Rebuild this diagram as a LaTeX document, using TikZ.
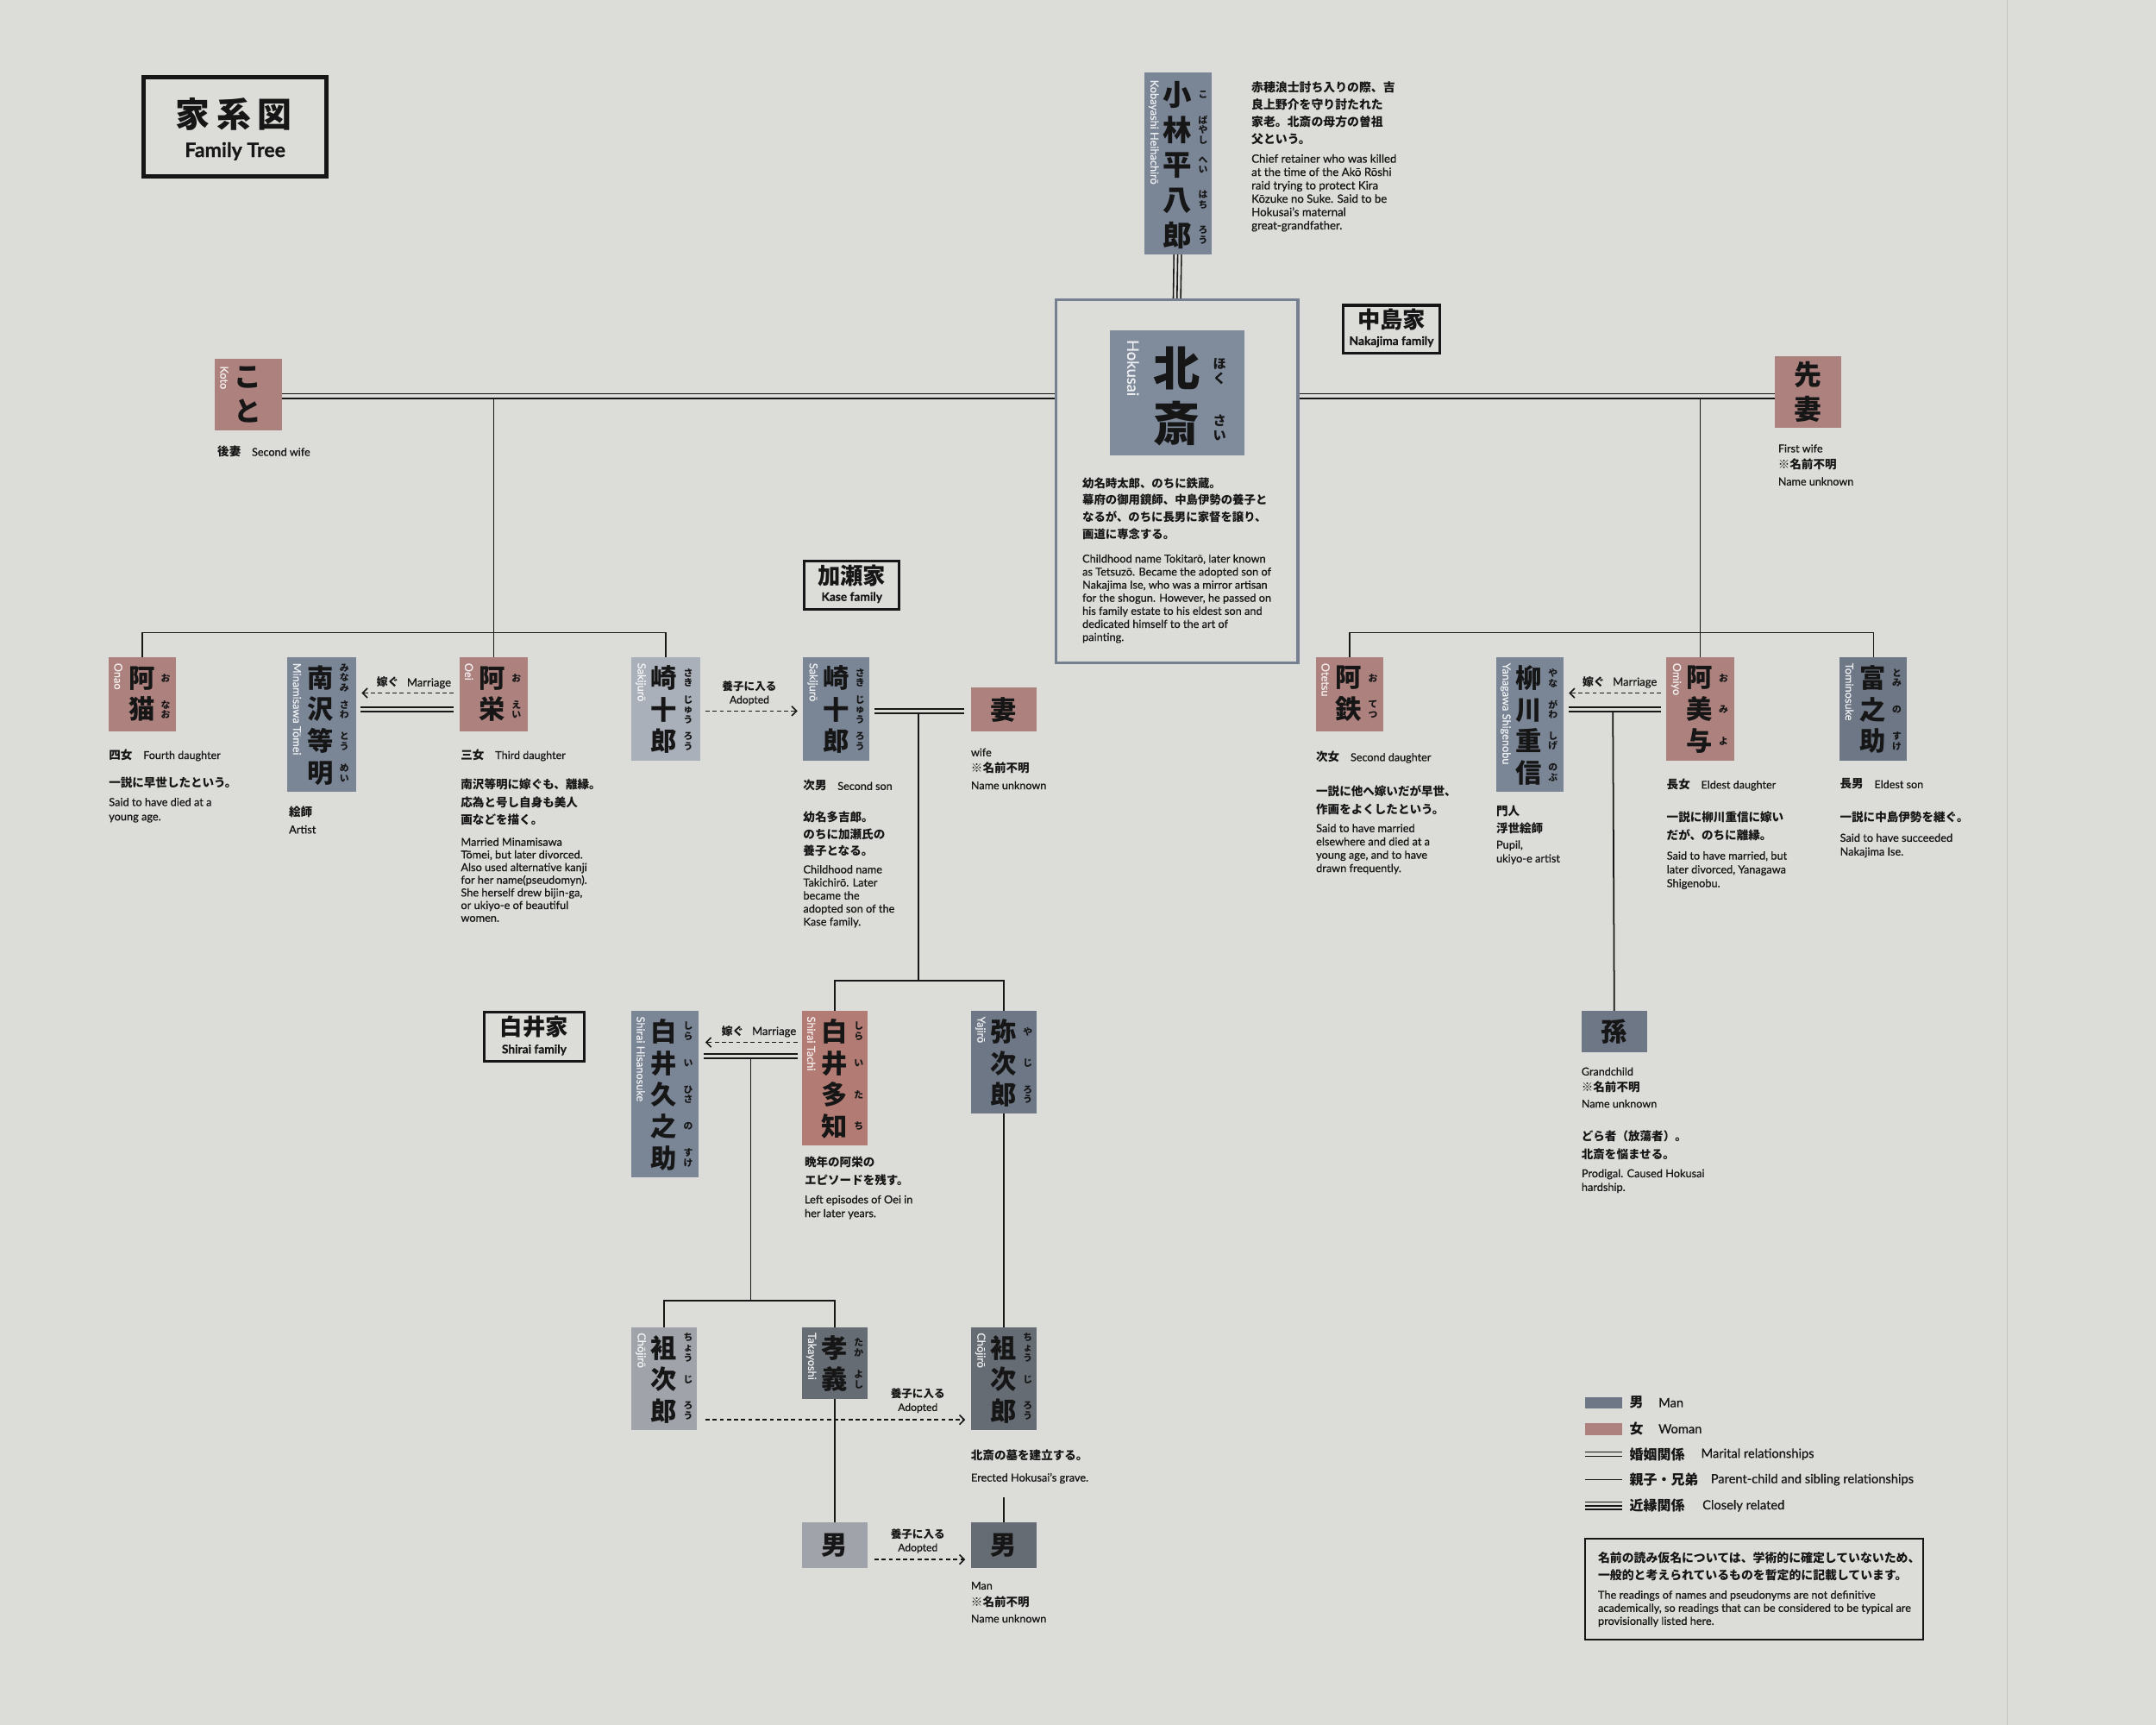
\documentclass[tikz,border=0pt]{standalone}
\usepackage{fontspec}
\setmainfont{Lato}[FakeBold=0.6]
\newfontfamily\jp{Noto Sans CJK JP}
\usetikzlibrary{arrows.meta}
\definecolor{bgc}{RGB}{220,220,216}
\definecolor{maleC}{RGB}{122,133,150}
\definecolor{maleD}{RGB}{110,119,134}
\definecolor{maleL}{RGB}{170,176,186}
\definecolor{hokC}{RGB}{128,139,156}
\definecolor{femC}{RGB}{172,129,126}
\definecolor{femT}{RGB}{178,124,116}
\definecolor{greyD}{RGB}{102,108,116}
\definecolor{greyL}{RGB}{160,164,170}
\definecolor{frameC}{RGB}{118,128,144}
\definecolor{ink}{RGB}{22,22,22}
\newcommand\jb{\jp\bfseries}
\newcommand\fsz[2]{\fontsize{#1}{#2}\selectfont}
\newcommand\pbox[6]{\node[fill=#6, inner sep=0pt, outer sep=0pt, minimum width={(#4-#2)*1pt}, minimum height={(#5-#3)*1pt}] (#1) at ({(#2+#4)/2},{(#3+#5)/2}) {};}
\newcommand\kj[4][]{\node[kjs,#1] at (#2,#3) {#4};}
\newcommand\fu[4][]{\node[fus,#1] at (#2,#3) {#4};}
\newcommand\rj[4][]{\node[rjs,#1] at (#2,#3) {#4};}
\newcommand\lab[4]{\node[txs] at (#1,#2) {{\jb\fsz{8.5}{9}#3}\hspace{8pt}{\fsz{7.9}{9}#4}};}
\newcommand\unk[4]{\node[txs, font=\fsz{7.9}{#3}] at (#1,#2) {#4\\{\jb\fsz{8.5}{#3}※名前不明}\\Name unknown};}
\newcommand\mlab[2]{\node[inner sep=0pt, text=ink] at (#1,#2) {{\jb\fsz{8}{9}嫁ぐ}\hspace{6pt}{\fsz{8.2}{9}Marriage}};}
\newcommand\alab[2]{\node[inner sep=0pt, text=ink, align=center, font=\fsz{7.6}{9.6}] at (#1,#2) {{\jb\fsz{7.9}{9.6}養子に入る}\\Adopted};}
\tikzset{
 kjs/.style={inner sep=0pt, align=center, text=ink, font=\jb\fsz{19}{23}},
 fus/.style={inner sep=0pt, align=center, text=ink, font=\jb\fsz{6.8}{7.3}},
 rjs/.style={rotate=-90, anchor=west, inner sep=0pt, text=white, text opacity=0.85, font=\fsz{8}{9}},
 txs/.style={anchor=north west, inner sep=0pt, align=left, text=ink},
 jd/.style={txs, font=\jb\fsz{8.5}{12.8}},
 ed/.style={txs, font=\fsz{8}{9.6}},
 ln/.style={line width=1.1pt, draw=ink},
 dbl/.style={line width=1pt, draw=ink, double=bgc, double distance=2.2pt},
 dbl3/.style={line width=1pt, draw=ink, double=bgc, double distance=4.4pt},
 adr/.style={line width=1pt, draw=ink, dash pattern=on 3pt off 2.2pt, -{Straight Barb[length=3.5pt,width=7pt]}},
 famb/.style={draw=ink, line width=2pt, inner sep=0pt, fill=bgc},
 famj/.style={inner sep=0pt, text=ink, font=\jb\fsz{16.5}{17}},
 fame/.style={inner sep=0pt, text=ink, font=\bfseries\fsz{8.6}{9}},
}
\begin{document}
\begin{tikzpicture}[x=1pt,y=-1pt]
\useasboundingbox (0,0) rectangle (1568,1254.4);
\fill[bgc] (0,0) rectangle (1568,1254.4);
\draw[bgc!88!black, line width=0.6pt] (1460,0) -- (1460,1254.4);

% ---------- title and family labels
\node[famb, line width=3.2pt, minimum width=132.8pt, minimum height=72pt] (title) at (171,92.3) {};
\node[inner sep=0pt, text=ink, font=\jb\fsz{25}{25}] (titlejp) at (170,83) {家\hspace{5pt}系\hspace{5pt}図};
\node[inner sep=0pt, text=ink, font=\bfseries\fsz{14.5}{15}] (titleen) at (171,110) {Family Tree};

\node[famb, minimum width=70pt, minimum height=35pt] (nakajima) at (1012,239.5) {};
\node[famj] (nakajp) at (1012,232.5) {中島家};
\node[fame] (nakaen) at (1012,248.5) {Nakajima family};

\node[famb, minimum width=69pt, minimum height=35pt] (kase) at (619.5,425.5) {};
\node[famj] (kasejp) at (619.5,418.5) {加瀬家};
\node[fame] (kaseen) at (619.5,434.5) {Kase family};

\node[famb, minimum width=73pt, minimum height=36pt] (shirai) at (388.5,754) {};
\node[famj] (shiraijp) at (388.5,747) {白井家};
\node[fame] (shiraien) at (388.5,763.5) {Shirai family};

% ---------- Kobayashi
\pbox{kobayashi}{832}{53}{881}{185}{maleC}
\kj[font=\jb\fsz{21}{25.5}]{856}{120}{小\\林\\平\\八\\郎}
\fu{875}{69}{こ}
\fu{875}{94.5}{ば\\や\\し}
\fu{875}{120}{へ\\い}
\fu{875}{145.5}{は\\ち}
\fu{875}{171}{ろ\\う}
\rj{839}{58}{Kobayashi Heihachirō}
\node[jd, font=\jb\fsz{8.7}{12.6}] (kobjp) at (910,59) {赤穂浪士討ち入りの際、吉\\良上野介を守り討たれた\\家老。北斎の母方の曽祖\\父という。};
\node[ed, font=\fsz{8.3}{9.7}] (koben) at (910,112) {Chief retainer who was killed\\at the time of the Akō Rōshi\\raid trying to protect Kira\\Kōzuke no Suke. Said to be\\Hokusai’s maternal\\great-grandfather.};

% ---------- Hokusai
\node[draw=frameC, line width=2.2pt, inner sep=0pt, minimum width=175.8pt, minimum height=263.8pt] (hframe) at (856,350) {};
\pbox{hokusai}{807}{240}{905}{331}{hokC}
\kj[font=\jb\fsz{34}{40}]{856}{288}{北\\斎}
\fu[font=\jb\fsz{9.5}{11}]{887}{270}{ほ\\く}
\fu[font=\jb\fsz{9.5}{11}]{887}{311}{さ\\い}
\rj[font=\fsz{11.5}{12}]{824}{247}{Hokusai}
\node[jd, font=\jb\fsz{8.4}{12.4}] (hokjp) at (787,347) {幼名時太郎、のちに鉄蔵。\\幕府の御用鏡師、中島伊勢の養子と\\なるが、のちに長男に家督を譲り、\\画道に専念する。};
\node[ed, font=\fsz{8}{9.5}] (hoken) at (787,403) {Childhood name Tokitarō, later known\\as Tetsuzō. Became the adopted son of\\Nakajima Ise, who was a mirror artisan\\for the shogun. However, he passed on\\his family estate to his eldest son and\\dedicated himself to the art of\\painting.};

% ---------- wives
\pbox{koto}{156}{261}{205}{313}{femC}
\kj[font=\jb\fsz{20}{25}]{180}{287}{こ\\と}
\rj{163}{266}{Koto}
\lab{158}{324}{後妻}{Second wife}

\pbox{senzai}{1291}{259}{1339}{311}{femC}
\kj[font=\jb\fsz{20}{25}]{1315}{285}{先\\妻}
\unk{1293}{323}{12}{First wife}

% ---------- left children
\pbox{onao}{79}{478}{128}{532}{femC}
\kj{103}{504.5}{阿\\猫}
\fu{120.5}{493}{お}
\fu{120.5}{516}{な\\お}
\rj{86}{482}{Onao}
\lab{79}{544.5}{四女}{Fourth daughter}
\node[jd] (onaojp) at (79,565) {一説に早世したという。};
\node[ed, font=\fsz{8}{10.5}] (onaoen) at (79,580) {Said to have died at a\\young age.};

\pbox{minami}{209}{478}{259}{576}{maleC}
\kj{233}{527.5}{南\\沢\\等\\明}
\fu{250.5}{493}{み\\な\\み}
\fu{250.5}{516}{さ\\わ}
\fu{250.5}{539}{と\\う}
\fu{250.5}{562}{め\\い}
\rj{216}{482}{Minamisawa Tōmei}
\node[jd] (minjp) at (210,586) {絵師};
\node[ed] (minen) at (210,600) {Artist};

\pbox{oei}{334}{478}{384}{532}{femC}
\kj{358}{504.5}{阿\\栄}
\fu{375.5}{493}{お}
\fu{375.5}{516}{え\\い}
\rj{341}{482}{Oei}
\lab{335}{544.5}{三女}{Third daughter}
\node[jd, font=\jb\fsz{8.5}{13}] (oeijp) at (335,566) {南沢等明に嫁ぐも、離縁。\\応為と号し自身も美人\\画などを描く。};
\node[ed, font=\fsz{8}{9.2}] (oeien) at (335,609) {Married Minamisawa\\Tōmei, but later divorced.\\Also used alternative kanji\\for her name(pseudomyn).\\She herself drew bijin-ga,\\or ukiyo-e of beautiful\\women.};

\pbox{saki1}{459}{478}{509}{553}{maleL}
\kj{483}{516}{崎\\十\\郎}
\fu{500.5}{493}{さ\\き}
\fu{500.5}{516}{じ\\ゅ\\う}
\fu{500.5}{539}{ろ\\う}
\rj{466}{482}{Sakijurō}

% ---------- Kase
\pbox{saki2}{584}{478}{632}{553}{maleC}
\kj{608}{516}{崎\\十\\郎}
\fu{625.5}{493}{さ\\き}
\fu{625.5}{516}{じ\\ゅ\\う}
\fu{625.5}{539}{ろ\\う}
\rj{591}{482}{Sakijurō}
\lab{584}{567}{次男}{Second son}
\node[jd, font=\jb\fsz{8.5}{12.3}] (sakijp) at (584,590) {幼名多吉郎。\\のちに加瀬氏の\\養子となる。};
\node[ed, font=\fsz{8}{9.5}] (sakien) at (584,629) {Childhood name\\Takichirō. Later\\became the\\adopted son of the\\Kase family.};

\pbox{tsuma}{706}{500}{754}{532}{femC}
\kj{730}{516}{妻}
\unk{706}{544}{12}{wife}

% ---------- right children
\pbox{otetsu}{957}{478}{1006}{532}{femC}
\kj{981}{504.5}{阿\\鉄}
\fu{998.5}{493}{お}
\fu{998.5}{516}{て\\つ}
\rj{964}{482}{Otetsu}
\lab{957}{546}{次女}{Second daughter}
\node[jd, font=\jb\fsz{8.5}{13}] (otejp) at (957,571) {一説に他へ嫁いだが早世、\\作画をよくしたという。};
\node[ed, font=\fsz{8}{9.7}] (oteen) at (957,599) {Said to have married\\elsewhere and died at a\\young age, and to have\\drawn frequently.};

\pbox{yanagawa}{1088}{478}{1137}{576}{maleC}
\kj{1112}{527.5}{柳\\川\\重\\信}
\fu{1129.5}{493}{や\\な}
\fu{1129.5}{516}{が\\わ}
\fu{1129.5}{539}{し\\げ}
\fu{1129.5}{562}{の\\ぶ}
\rj{1095}{482}{Yanagawa Shigenobu}
\node[jd, font=\jb\fsz{8.5}{12}] (yanjp) at (1088,586) {門人\\浮世絵師};
\node[ed, font=\fsz{8}{10}] (yanen) at (1088,611) {Pupil,\\ukiyo-e artist};

\pbox{omiyo}{1212}{478}{1261}{553}{femC}
\kj{1236}{516}{阿\\美\\与}
\fu{1253.5}{493}{お}
\fu{1253.5}{516}{み}
\fu{1253.5}{539}{よ}
\rj{1219}{482}{Omiyo}
\lab{1212}{566}{長女}{Eldest daughter}
\node[jd, font=\jb\fsz{8.5}{13}] (omijp) at (1212,590) {一説に柳川重信に嫁い\\だが、のちに離縁。};
\node[ed, font=\fsz{8}{10}] (omien) at (1212,619) {Said to have married, but\\later divorced, Yanagawa\\Shigenobu.};

\pbox{tomi}{1338}{478}{1387}{553}{maleD}
\kj{1362}{516}{富\\之\\助}
\fu{1379.5}{493}{と\\み}
\fu{1379.5}{516}{の}
\fu{1379.5}{539}{す\\け}
\rj{1345}{482}{Tominosuke}
\lab{1338}{566}{長男}{Eldest son}
\node[jd] (tomijp) at (1338,590) {一説に中島伊勢を継ぐ。};
\node[ed, font=\fsz{8}{10}] (tomien) at (1338,606) {Said to have succeeded\\Nakajima Ise.};

\pbox{mago}{1150}{735}{1198}{765}{maleD}
\kj{1174}{750}{孫}
\unk{1150}{776}{11.7}{Grandchild}
\node[jd, font=\jb\fsz{8.5}{13}] (magojp) at (1150,822) {どら者（放蕩者）。\\北斎を悩ませる。};
\node[ed, font=\fsz{8}{10}] (magoen) at (1150,850) {Prodigal. Caused Hokusai\\hardship.};

% ---------- Shirai
\pbox{tachi}{583}{735}{631}{833}{femT}
\kj{607}{784.5}{白\\井\\多\\知}
\fu{624.5}{750}{し\\ら}
\fu{624.5}{773}{い}
\fu{624.5}{796}{た}
\fu{624.5}{819}{ち}
\rj{590}{739}{Shirai Tachi}
\node[jd, font=\jb\fsz{8.5}{13}] (tachijp) at (585,841) {晩年の阿栄の\\エピソードを残す。};
\node[ed, font=\fsz{8}{10}] (tachien) at (585,869) {Left episodes of Oei in\\her later years.};

\pbox{yajiro}{706}{735}{754}{810}{maleD}
\kj{730}{773}{弥\\次\\郎}
\fu{747.5}{750}{や}
\fu{747.5}{773}{じ}
\fu{747.5}{796}{ろ\\う}
\rj{713}{739}{Yajirō}

\pbox{hisa}{459}{735}{508}{856}{maleC}
\kj{483}{796}{白\\井\\久\\之\\助}
\fu{500.5}{750}{し\\ら}
\fu{500.5}{773}{い}
\fu{500.5}{796}{ひ\\さ}
\fu{500.5}{819}{の}
\fu{500.5}{842}{す\\け}
\rj{466}{739}{Shirai Hisanosuke}

% ---------- bottom generation
\pbox{cho1}{459}{965}{507}{1040}{greyL}
\kj{483}{1003}{袓\\次\\郎}
\fu{500.5}{980}{ち\\ょ\\う}
\fu{500.5}{1003}{じ}
\fu{500.5}{1026}{ろ\\う}
\rj{466}{969}{Chōjirō}

\pbox{taka}{583}{965}{631}{1017}{greyD}
\kj{607}{991.5}{孝\\義}
\fu{624.5}{980}{た\\か}
\fu{624.5}{1003}{よ\\し}
\rj{590}{969}{Takayoshi}

\pbox{cho2}{706}{965}{754}{1040}{greyD}
\kj{730}{1003}{袓\\次\\郎}
\fu{747.5}{980}{ち\\ょ\\う}
\fu{747.5}{1003}{じ}
\fu{747.5}{1026}{ろ\\う}
\rj{713}{969}{Chōjirō}
\node[jd] (chojp) at (706,1054) {北斎の墓を建立する。};
\node[ed] (choen) at (706,1071) {Erected Hokusai’s grave.};

\pbox{otoko1}{583}{1107}{631}{1140}{greyL}
\kj{607}{1123.5}{男}
\pbox{otoko2}{706}{1107}{754}{1140}{greyD}
\kj{730}{1123.5}{男}
\unk{706}{1150}{12}{Man}

% ---------- connectors
\coordinate (mL) at (357,288);
\coordinate (mR) at (1237,288);
\coordinate (sbL) at (357,460);
\coordinate (sbR) at (1237,460);
\draw[dbl3] (kobayashi.south) -- (hframe.north);
\draw[line width=1pt, draw=ink] (kobayashi.south) -- (hframe.north);
\draw[dbl] (koto.east |- mL) -- (hframe.west |- mL);
\draw[dbl] (hframe.east |- mR) -- (senzai.west |- mR);
\draw[ln] ([yshift=-1.6pt]oei.north |- mL) -- (oei.north);
\draw[ln] (onao.north) -- (onao.north |- sbL) -- (saki1.north |- sbL) -- (saki1.north);
\draw[ln] ([yshift=-1.6pt]omiyo.north |- mR) -- (omiyo.north);
\draw[ln] (otetsu.north) -- (otetsu.north |- sbR) -- (tomi.north |- sbR) -- (tomi.north);

% Oei - Minamisawa
\coordinate (oD) at (0,516);
\coordinate (oA) at (0,504);
\draw[dbl] ([xshift=3pt]minami.east |- oD) -- ([xshift=-4pt]oei.west |- oD);
\draw[adr] ([xshift=-4pt]oei.west |- oA) -- ([xshift=4pt]minami.east |- oA);
\mlab{301}{496.5}

% Omiyo - Yanagawa
\draw[dbl] ([xshift=4pt]yanagawa.east |- oD) -- ([xshift=-4pt]omiyo.west |- oD);
\draw[adr] ([xshift=-4pt]omiyo.west |- oA) -- ([xshift=4pt]yanagawa.east |- oA);
\mlab{1178}{496}
\coordinate (yT) at (1173,516);
\draw[ln] ([yshift=-1.6pt]yT) -- (mago.north);

% Sakijuro adoption and Kase marriage
\coordinate (kD) at (668,517);
\coordinate (kB) at (668,713);
\draw[adr] ([xshift=4pt]saki1.east |- kD) -- ([xshift=-4pt]saki2.west |- kD);
\alab{545}{504}
\draw[dbl] ([xshift=4pt]saki2.east |- kD) -- ([xshift=-5pt]tsuma.west |- kD);
\draw[ln] ([yshift=-1.6pt]kD) -- (kB);
\draw[ln] (tachi.north) -- (tachi.north |- kB) -- (yajiro.north |- kB) -- (yajiro.north);

% Tachi - Hisanosuke
\coordinate (sD) at (546,768);
\coordinate (sA) at (546,758);
\coordinate (sB) at (546,946);
\draw[dbl] ([xshift=4pt]hisa.east |- sD) -- ([xshift=-3pt]tachi.west |- sD);
\draw[adr] ([xshift=-3pt]tachi.west |- sA) -- ([xshift=5pt]hisa.east |- sA);
\mlab{552}{750}
\draw[ln] ([yshift=-1.6pt]sD) -- (sB);
\draw[ln] (cho1.north) -- (cho1.north |- sB) -- (taka.north |- sB) -- (taka.north);
\draw[ln] (yajiro.south) -- (cho2.north);
\draw[ln] (taka.south) -- (otoko1.north);
\coordinate (stub) at (730,1089);
\draw[ln] (otoko2.north |- stub) -- (otoko2.north);

% adoptions at the bottom
\coordinate (cA) at (0,1032.5);
\coordinate (bA) at (0,1134);
\draw[adr] ([xshift=6pt]cho1.east |- cA) -- ([xshift=-4pt]cho2.west |- cA);
\alab{667.5}{1018.5}
\draw[adr] ([xshift=5pt]otoko1.east |- bA) -- ([xshift=-4pt]otoko2.west |- bA);
\alab{667.5}{1120.5}

% ---------- legend
\fill[maleD] (1153,1016) rectangle (1180,1024.5);
\fill[femC] (1153,1035) rectangle (1180,1043.5);
\draw[dbl] (1153,1057.5) -- (1180,1057.5);
\draw[ln] (1153,1076) -- (1180,1076);
\draw[dbl3] (1153,1095) -- (1180,1095);
\draw[line width=1pt, draw=ink] (1153,1095) -- (1180,1095);
\node[anchor=west, inner sep=0pt, text=ink, font=\jb\fsz{10}{11}] (lg1) at (1185,1020) {男};
\node[anchor=west, inner sep=0pt, text=ink, font=\fsz{9.2}{10}] (lg1e) at (1206,1020) {Man};
\node[anchor=west, inner sep=0pt, text=ink, font=\jb\fsz{10}{11}] (lg2) at (1185,1039) {女};
\node[anchor=west, inner sep=0pt, text=ink, font=\fsz{9.2}{10}] (lg2e) at (1206,1039) {Woman};
\node[anchor=west, inner sep=0pt, text=ink, font=\jb\fsz{10}{11}] (lg3) at (1185,1057.5) {婚姻関係};
\node[anchor=west, inner sep=0pt, text=ink, font=\fsz{9.2}{10}] (lg3e) at (1237,1057.5) {Marital relationships};
\node[anchor=west, inner sep=0pt, text=ink, font=\jb\fsz{10}{11}] (lg4) at (1185,1076) {親子・兄弟};
\node[anchor=west, inner sep=0pt, text=ink, font=\fsz{9.2}{10}] (lg4e) at (1244,1076) {Parent-child and sibling relationships};
\node[anchor=west, inner sep=0pt, text=ink, font=\jb\fsz{10}{11}] (lg5) at (1185,1095) {近縁関係};
\node[anchor=west, inner sep=0pt, text=ink, font=\fsz{9.2}{10}] (lg5e) at (1238,1095) {Closely related};

\node[draw=ink, line width=1.3pt, inner sep=0pt, minimum width=245.7pt, minimum height=73.7pt] (note) at (1275.5,1155.5) {};
\node[jd, font=\jb\fsz{8.7}{12.6}] (notejp) at (1162,1128.5) {名前の読み仮名については、学術的に確定していないため、\\一般的と考えられているものを暫定的に記載しています。};
\node[ed, font=\fsz{8}{9.5}] (noteen) at (1162,1156.5) {The readings of names and pseudonyms are not definitive\\academically, so readings that can be considered to be typical are\\provisionally listed here.};
\end{tikzpicture}
\end{document}
